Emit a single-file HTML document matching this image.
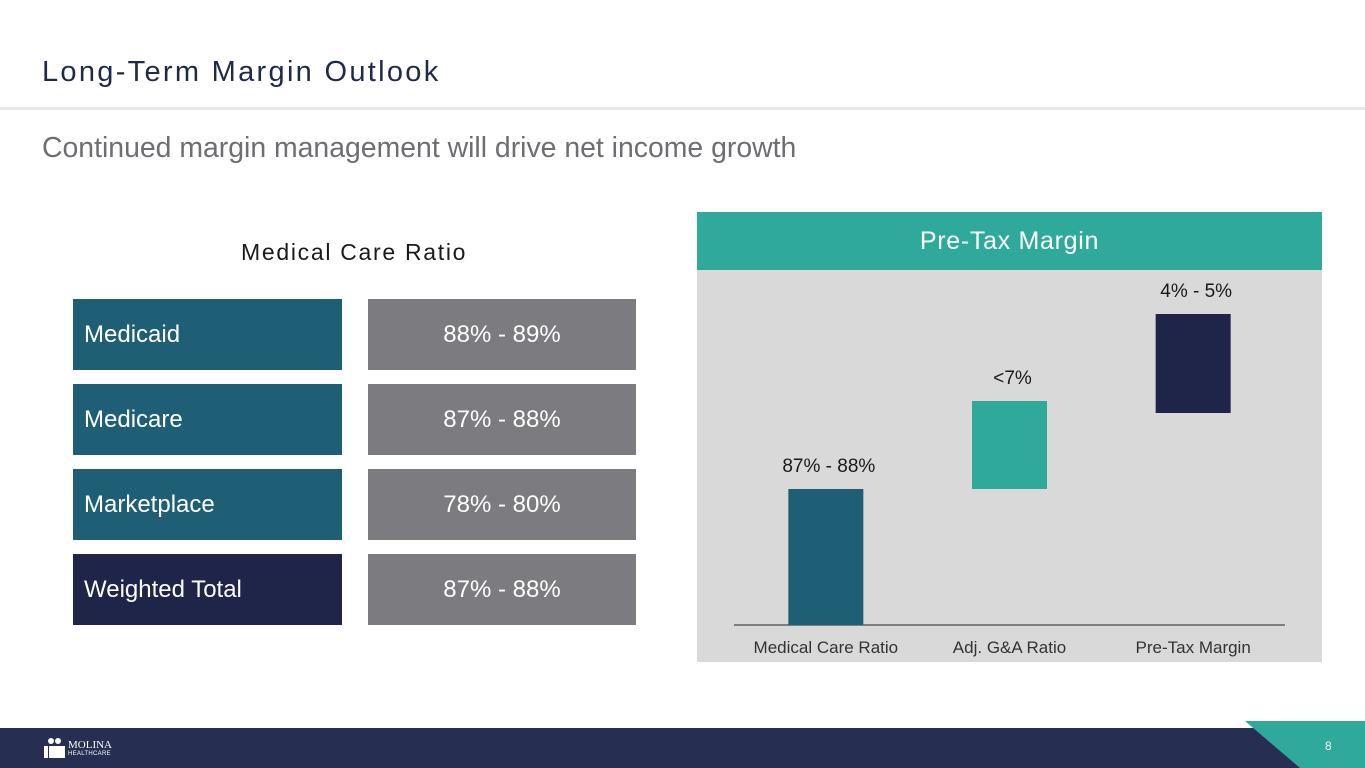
<!DOCTYPE html>
<html><head><meta charset="utf-8">
<style>
body{margin:0;width:1365px;height:768px;overflow:hidden;background:#fff;font-family:"Liberation Sans",sans-serif;position:relative}
.abs{position:absolute}
.title{left:42px;top:56px;font-size:29px;color:#1f2a4a;letter-spacing:2.3px}
.rule{left:0;top:107px;width:1365px;height:3px;background:#e8e8e8}
.sub{left:42px;top:132px;font-size:28.4px;color:#6e6e72}
.mcrt{left:241px;top:239px;font-size:23px;color:#1a1a1a;letter-spacing:1.7px}
.lab{left:73px;width:269px;height:71px;color:#fff;font-size:24px;line-height:71px;padding-left:11px;box-sizing:border-box}
.val{left:368px;width:268px;height:71px;color:#fff;font-size:24px;line-height:71px;text-align:center;background:#7c7b7f}
</style></head><body>
<div class="abs title">Long-Term Margin Outlook</div>
<div class="abs rule"></div>
<div class="abs sub">Continued margin management will drive net income growth</div>
<div class="abs mcrt">Medical Care Ratio</div>
<div class="abs lab" style="top:299px;background:#1f5f75">Medicaid</div>
<div class="abs val" style="top:299px">88% - 89%</div>
<div class="abs lab" style="top:384px;background:#1f5f75">Medicare</div>
<div class="abs val" style="top:384px">87% - 88%</div>
<div class="abs lab" style="top:469px;background:#1f5f75">Marketplace</div>
<div class="abs val" style="top:469px">78% - 80%</div>
<div class="abs lab" style="top:554px;background:#1e2549">Weighted Total</div>
<div class="abs val" style="top:554px">87% - 88%</div>

<div class="abs" style="left:697px;top:212px;width:625px;height:58px;background:#2ea99a;color:#fff;font-size:25px;line-height:58px;text-align:center;letter-spacing:0.7px">Pre-Tax Margin</div>
<svg class="abs" style="left:697px;top:270px" width="625" height="392">
<rect width="625" height="392" fill="#d9d9d9"/>
<g id="g"></g>
</svg>

<div class="abs" style="left:0;top:728px;width:1365px;height:40px;background:#262e52"></div>
<svg class="abs" style="left:1230px;top:715px" width="135" height="53">
<polygon points="35,13 55,13 95,53 75,53" fill="#1e2549"/>
<polygon points="15,6 135,6 135,53 70,53" fill="#2ea99a"/>
<text x="95" y="35" font-size="12" fill="#fff" font-family="Liberation Sans">8</text>
</svg>
<div class="abs" style="left:44px;top:737px;color:#fff">
<svg width="22" height="22" style="position:absolute;left:0;top:0"><circle cx="7" cy="4" r="3" fill="#fff"/><circle cx="14" cy="4" r="3" fill="#fff"/><rect x="0" y="9" width="4" height="12" fill="#fff"/><rect x="5" y="9" width="16" height="12" fill="#fff"/></svg>
<div style="position:absolute;left:24px;top:3px;font-family:'Liberation Serif',serif;font-size:11px;line-height:11px">MOLINA</div>
<div style="position:absolute;left:24px;top:14px;font-size:6px;line-height:6px;letter-spacing:0.3px">HEALTHCARE</div>
</div>
<script>
const categories=["Medical Care Ratio","Adj. G&A Ratio","Pre-Tax Margin"];
const barStarts=[0,136,212];
const barEnds=[136,224,311];
const valueLabels=["87% - 88%","<7%","4% - 5%"];
const barColors=["#1f5f75","#2ea99a","#1e2549"];
const ns="http://www.w3.org/2000/svg";
const g=document.getElementById('g');
const baseY=355, x0=37, x1=588, bw=75;
const y=v=>baseY-v;
const band=(x1-x0)/categories.length;
const xc=i=>x0+band*(i+0.5);
function mk(t,a){const e=document.createElementNS(ns,t);for(const k in a)e.setAttribute(k,a[k]);g.appendChild(e);return e;}
const ax=mk('line',{x1:x0,x2:x1,y1:baseY,y2:baseY,stroke:'#222','stroke-width':1});


categories.forEach((c,i)=>{
  const top=y(Math.max(barStarts[i],barEnds[i])),bot=y(Math.min(barStarts[i],barEnds[i]));
  const r=mk('rect',{x:xc(i)-bw/2,y:top,width:bw,height:bot-top,fill:barColors[i]});
  
  
  const t=mk('text',{x:xc(i)+3,y:top-17,'text-anchor':'middle','font-size':19,fill:'#1a1a1a','font-family':'Liberation Sans'});
  t.textContent=valueLabels[i];
  
  
  const l=mk('text',{x:xc(i),y:baseY+28,'text-anchor':'middle','font-size':17,fill:'#333','font-family':'Liberation Sans'});
  l.textContent=c;
  
  
});
</script>
</body></html>
